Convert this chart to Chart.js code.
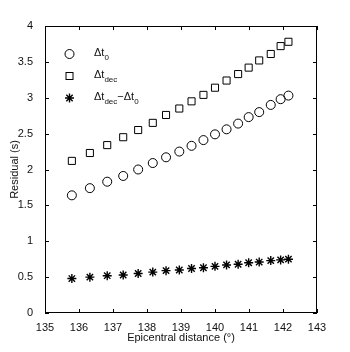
<!DOCTYPE html>
<html>
<head>
<meta charset="utf-8">
<script src="https://cdn.jsdelivr.net/npm/chart.js"></script>
<style>
  html, body { margin: 0; padding: 0; background: #fff; }
</style>
</head>
<body>
<canvas id="residual-chart" width="350" height="352"></canvas>
<script>
// epicentral distance of each station (deg)
const distance = [135.79, 136.32, 136.83, 137.30, 137.74, 138.17, 138.56, 138.95, 139.31,
                  139.66, 140.00, 140.34, 140.68, 140.99, 141.30, 141.64, 141.93, 142.16];
// residuals (s)
const dt0 = [1.64, 1.74, 1.83, 1.91, 2.00, 2.09, 2.17, 2.25, 2.33,
             2.41, 2.49, 2.56, 2.64, 2.73, 2.80, 2.90, 2.98, 3.03];
const dtDec = [2.12, 2.23, 2.34, 2.45, 2.55, 2.65, 2.76, 2.85, 2.95,
               3.04, 3.14, 3.24, 3.33, 3.42, 3.52, 3.61, 3.72, 3.78];
const dtDiff = [0.48, 0.50, 0.52, 0.53, 0.55, 0.57, 0.59, 0.60, 0.62,
                0.63, 0.65, 0.67, 0.68, 0.70, 0.71, 0.73, 0.74, 0.75];
const xTicks = [135, 136, 137, 138, 139, 140, 141, 142, 143];
const yTicks = [0, 0.5, 1, 1.5, 2, 2.5, 3, 3.5, 4];

const FONT = '"Liberation Sans", Arial, sans-serif';
const pts = ys => distance.map((d, i) => ({ x: d, y: ys[i] }));

// draws the box, inward ticks (all four sides) and the legend with subscripts
const matlabStyle = {
  id: 'matlabStyle',
  afterDraw(chart) {
    const { ctx, chartArea: a, scales: { x, y } } = chart;
    ctx.save();
    ctx.strokeStyle = '#000';
    ctx.lineWidth = 1;
    ctx.strokeRect(Math.round(a.left) + 0.5, Math.round(a.top) + 0.5,
                   Math.round(a.width) - 1, Math.round(a.height) - 1);
    ctx.beginPath();
    xTicks.forEach(v => {
      const px = Math.round(x.getPixelForValue(v)) + 0.5;
      ctx.moveTo(px, a.bottom); ctx.lineTo(px, a.bottom - 4);
      ctx.moveTo(px, a.top); ctx.lineTo(px, a.top + 4);
    });
    yTicks.forEach(v => {
      const py = Math.round(y.getPixelForValue(v)) + 0.5;
      ctx.moveTo(a.left, py); ctx.lineTo(a.left + 4, py);
      ctx.moveTo(a.right, py); ctx.lineTo(a.right - 4, py);
    });
    ctx.stroke();

    // legend
    const mx = 69.5, tx = 94;
    const rows = [54, 76, 98];
    ctx.lineWidth = 1;
    ctx.beginPath();
    ctx.arc(mx, rows[0], 4.5, 0, Math.PI * 2);
    ctx.stroke();
    ctx.strokeRect(mx - 3.5, rows[1] - 3.5, 7, 7);
    ctx.lineWidth = 1.4;
    ctx.beginPath();
    for (let k = 0; k < 4; k++) {
      const ang = k * Math.PI / 4, r = 4.5;
      ctx.moveTo(mx - r * Math.cos(ang), rows[2] - r * Math.sin(ang));
      ctx.lineTo(mx + r * Math.cos(ang), rows[2] + r * Math.sin(ang));
    }
    ctx.stroke();

    ctx.fillStyle = '#111';
    ctx.textBaseline = 'alphabetic';
    const big = '11px ' + FONT, small = '8px ' + FONT;
    const drawParts = (parts, x0, yb) => {
      let cx = x0;
      parts.forEach(([txt, sub]) => {
        ctx.font = sub ? small : big;
        ctx.fillText(txt, cx, sub ? yb + 4 : yb);
        cx += ctx.measureText(txt).width;
      });
    };
    drawParts([['\u0394t'], ['0', 1]], tx, rows[0] + 2);
    drawParts([['\u0394t'], ['dec', 1]], tx, rows[1] + 2);
    drawParts([['\u0394t'], ['dec', 1], ['\u2212\u0394t'], ['0', 1]], tx, rows[2] + 2);
    ctx.restore();
  }
};

new Chart(document.getElementById('residual-chart'), {
  type: 'scatter',
  data: {
    datasets: [
      {
        label: '\u0394t0',
        data: pts(dt0),
        pointStyle: 'circle',
        pointRadius: 4.5,
        borderColor: '#000',
        backgroundColor: 'rgba(0,0,0,0)',
        borderWidth: 1
      },
      {
        label: '\u0394tdec',
        data: pts(dtDec),
        pointStyle: 'rect',
        pointRadius: 5,
        borderColor: '#000',
        backgroundColor: 'rgba(0,0,0,0)',
        borderWidth: 1
      },
      {
        label: '\u0394tdec-\u0394t0',
        data: pts(dtDiff),
        pointStyle: 'star',
        pointRadius: 4.5,
        borderColor: '#000',
        backgroundColor: '#000',
        borderWidth: 1.4
      }
    ]
  },
  options: {
    responsive: false,
    animation: false,
    events: [],
    layout: { padding: { top: 26, right: 33, left: 0, bottom: 0 } },
    plugins: {
      legend: { display: false },
      tooltip: { enabled: false }
    },
    scales: {
      x: {
        type: 'linear',
        min: 135,
        max: 143,
        afterFit: s => { s.height = 39; },
        afterBuildTicks: s => { s.ticks = xTicks.map(v => ({ value: v })); },
        grid: { display: false },
        border: { display: false },
        ticks: { color: '#111', font: { family: FONT, size: 11 }, padding: 0, maxRotation: 0,
                 callback: v => String(v) },
        title: {
          display: true,
          text: 'Epicentral distance (\u00b0)',
          color: '#111',
          font: { family: FONT, size: 11 },
          padding: { top: 2, bottom: 7 }
        }
      },
      y: {
        type: 'linear',
        min: 0,
        max: 4,
        afterFit: s => { s.width = 45; },
        afterBuildTicks: s => { s.ticks = yTicks.map(v => ({ value: v })); },
        grid: { display: false },
        border: { display: false },
        ticks: { color: '#111', font: { family: FONT, size: 11 }, padding: 4,
                 callback: v => String(v) },
        title: {
          display: true,
          text: 'Residual (s)',
          color: '#111',
          font: { family: FONT, size: 11 },
          padding: { top: 8, bottom: 4 }
        }
      }
    }
  },
  plugins: [matlabStyle]
});
</script>
</body>
</html>
